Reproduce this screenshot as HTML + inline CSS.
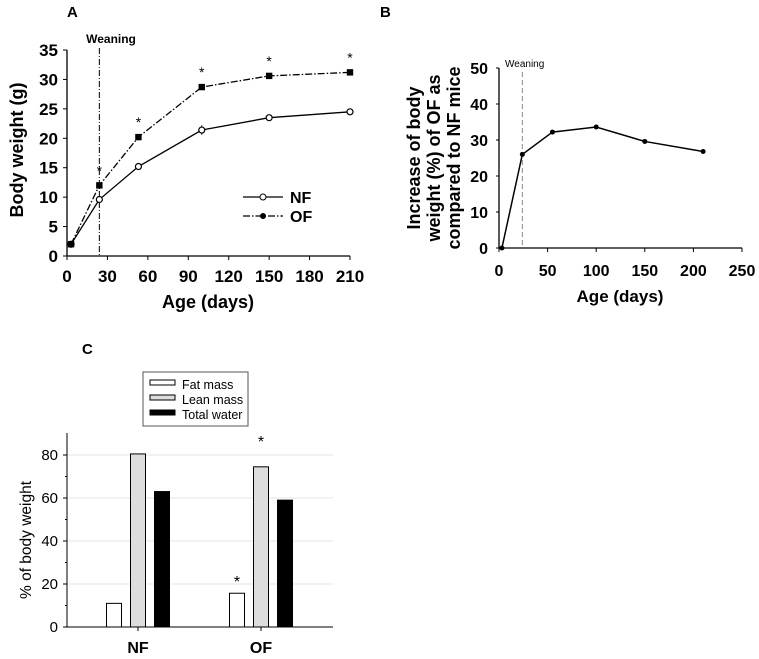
<!DOCTYPE html>
<html><head><meta charset="utf-8"><style>
body{margin:0;background:#fff;}
svg{display:block;font-family:"Liberation Sans",Arial,sans-serif;}
</style></head><body>
<svg id="svg" width="759" height="659" viewBox="0 0 759 659">
<text x="67" y="17" font-size="15" font-weight="bold">A</text>
<text x="380" y="17" font-size="15" font-weight="bold">B</text>
<text x="82" y="354" font-size="15" font-weight="bold">C</text>
<g id="ga"></g>
<g id="gb"></g>
<g id="gc"></g>
</svg>
<script>
// Panel A data
const aDays=[3,24,53,100,150,210];
const aNF=[2,9.6,15.2,21.4,23.5,24.5];
const aOF=[2,12,20.2,28.7,30.6,31.2];
const aErrNF=[0.2,0.4,0.5,0.8,0.4,0.5];
const aErrOF=[0.2,0.6,0.4,0.3,0.4,0.4];
const aSig=[false,true,true,true,true,true];
const aXTicks=[0,30,60,90,120,150,180,210];
const aYTicks=[0,5,10,15,20,25,30,35];
const weaningDay=24;
// Panel B data
const bDays=[3,24,55,100,150,210];
const bInc=[0,26,32.2,33.6,29.6,26.8];
const bXTicks=[0,50,100,150,200,250];
const bYTicks=[0,10,20,30,40,50];
// Panel C data
const cGroups=["NF","OF"];
const cSeries=["Fat mass","Lean mass","Total water"];
const cFat=[11,15.7];
const cLean=[80.5,74.5];
const cWater=[63,59];
const cSigFat=[false,true];
const cSigLean=[false,true];
const cYTicks=[0,20,40,60,80];

const NS="http://www.w3.org/2000/svg";
function mk(parent,tag,attrs,text){const e=document.createElementNS(NS,tag);for(const k in attrs)e.setAttribute(k,attrs[k]);if(text!==undefined)e.textContent=text;parent.appendChild(e);return e;}

// ---------- Panel A ----------
(function(){
const g=document.getElementById('ga');
const x=d=>67+d*(283/210), y=v=>256-v*(206/35);
let e;
e=mk(g,'line',{x1:67,y1:y(35),x2:67,y2:256,stroke:'#000','stroke-width':1.3});

e=mk(g,'line',{x1:67,y1:256,x2:350,y2:256,stroke:'#000','stroke-width':1.3});

aYTicks.forEach(t=>{mk(g,'line',{x1:63,y1:y(t),x2:67,y2:y(t),stroke:'#000'});
 e=mk(g,'text',{x:58,y:y(t)+6,'font-size':17,'font-weight':'bold','text-anchor':'end'},t);
 });
aXTicks.forEach(t=>{mk(g,'line',{x1:x(t),y1:256,x2:x(t),y2:260,stroke:'#000'});
 e=mk(g,'text',{x:x(t),y:282,'font-size':17,'font-weight':'bold','text-anchor':'middle'},t);
 });
e=mk(g,'text',{x:208,y:308,'font-size':18,'font-weight':'bold','text-anchor':'middle'},'Age (days)');

e=mk(g,'text',{x:0,y:0,'font-size':18,'font-weight':'bold','text-anchor':'middle',transform:'translate(23,150) rotate(-90)'},'Body weight (g)');

e=mk(g,'line',{x1:x(weaningDay),y1:48,x2:x(weaningDay),y2:256,stroke:'#000','stroke-dasharray':'6,2,1,2'});

e=mk(g,'text',{x:111,y:43,'font-size':12,'font-weight':'bold','text-anchor':'middle'},'Weaning');

e=mk(g,'polyline',{points:aDays.map((d,i)=>x(d)+','+y(aNF[i])).join(' '),fill:'none',stroke:'#000','stroke-width':1.3});

e=mk(g,'polyline',{points:aDays.map((d,i)=>x(d)+','+y(aOF[i])).join(' '),fill:'none',stroke:'#000','stroke-width':1.3,'stroke-dasharray':'7,2,1.5,2'});

aDays.forEach((d,i)=>{
 mk(g,'line',{x1:x(d),y1:y(aNF[i]-aErrNF[i]),x2:x(d),y2:y(aNF[i]+aErrNF[i]),stroke:'#000'});
 mk(g,'line',{x1:x(d),y1:y(aOF[i]-aErrOF[i]),x2:x(d),y2:y(aOF[i]+aErrOF[i]),stroke:'#000'});
 e=mk(g,'circle',{cx:x(d),cy:y(aNF[i]),r:3,fill:'#fff',stroke:'#000','stroke-width':1.2});
 
 e=mk(g,'rect',{x:x(d)-3.2,y:y(aOF[i])-3.2,width:6.4,height:6.4,fill:'#000'});
 
 if(aSig[i]){e=mk(g,'text',{x:x(d),y:y(aOF[i])-10,'font-size':14,'text-anchor':'middle'},'*');
  }
});
mk(g,'line',{x1:243,y1:197,x2:283,y2:197,stroke:'#000','stroke-width':1.3});
mk(g,'circle',{cx:263,cy:197,r:3,fill:'#fff',stroke:'#000'});
e=mk(g,'text',{x:290,y:203,'font-size':16,'font-weight':'bold'},'NF');

mk(g,'line',{x1:243,y1:216,x2:283,y2:216,stroke:'#000','stroke-width':1.3,'stroke-dasharray':'7,2,1.5,2'});
mk(g,'circle',{cx:263,cy:216,r:3,fill:'#000'});
e=mk(g,'text',{x:290,y:222,'font-size':16,'font-weight':'bold'},'OF');

})();

// ---------- Panel B ----------
(function(){
const g=document.getElementById('gb');
const x=d=>499+d*(243/250), y=v=>248-v*(180/50);
let e;
e=mk(g,'line',{x1:499,y1:68,x2:499,y2:248,stroke:'#000','stroke-width':1.3});

e=mk(g,'line',{x1:499,y1:248,x2:742,y2:248,stroke:'#000','stroke-width':1.3});

bYTicks.forEach(t=>{mk(g,'line',{x1:496,y1:y(t),x2:499,y2:y(t),stroke:'#000'});
 e=mk(g,'text',{x:488,y:y(t)+6,'font-size':16,'font-weight':'bold','text-anchor':'end'},t);
 });
bXTicks.forEach(t=>{mk(g,'line',{x1:x(t),y1:248,x2:x(t),y2:252,stroke:'#000'});
 e=mk(g,'text',{x:x(t),y:276,'font-size':16,'font-weight':'bold','text-anchor':'middle'},t);
 });
e=mk(g,'text',{x:620,y:302,'font-size':17,'font-weight':'bold','text-anchor':'middle'},'Age (days)');

['Increase of body','weight (%) of OF as','compared to NF mice'].forEach((s,i)=>{
 e=mk(g,'text',{x:0,y:0,'font-size':18,'font-weight':'bold','text-anchor':'middle',transform:'translate('+(420+i*20)+',158) rotate(-90)'},s);
 });
e=mk(g,'line',{x1:x(weaningDay),y1:72,x2:x(weaningDay),y2:248,stroke:'#888','stroke-dasharray':'5,3'});

e=mk(g,'text',{x:505,y:67,'font-size':10},'Weaning');

e=mk(g,'polyline',{points:bDays.map((d,i)=>x(d)+','+y(bInc[i])).join(' '),fill:'none',stroke:'#000','stroke-width':1.5});

bDays.forEach((d,i)=>{e=mk(g,'circle',{cx:x(d),cy:y(bInc[i]),r:2.5,fill:'#000'});
 });
})();

// ---------- Panel C ----------
(function(){
const g=document.getElementById('gc');
const y=v=>627-v*(172/80);
const groupX=[138,261], offs=[-24,0,24], bw=15;
const fills=['#fff','#ddd','#000'];
const vals=[cFat,cLean,cWater];
let e;
cYTicks.forEach(t=>{ if(t>0){e=mk(g,'line',{x1:67,y1:y(t),x2:333,y2:y(t),stroke:'#e6e6e6'});
 }
 mk(g,'line',{x1:63,y1:y(t),x2:67,y2:y(t),stroke:'#000'});
 e=mk(g,'text',{x:58,y:y(t)+5,'font-size':15,'text-anchor':'end'},t);
 });
[10,30,50,70].forEach(t=>mk(g,'line',{x1:65,y1:y(t),x2:67,y2:y(t),stroke:'#000'}));
e=mk(g,'line',{x1:67,y1:433,x2:67,y2:627,stroke:'#000'});

e=mk(g,'line',{x1:67,y1:627,x2:333,y2:627,stroke:'#000'});

e=mk(g,'text',{x:0,y:0,'font-size':15.5,'text-anchor':'middle',transform:'translate(31,540) rotate(-90)'},'% of body weight');

cGroups.forEach((gname,gi)=>{
 mk(g,'line',{x1:groupX[gi],y1:627,x2:groupX[gi],y2:631,stroke:'#000'});
 e=mk(g,'text',{x:groupX[gi],y:653,'font-size':16,'font-weight':'bold','text-anchor':'middle'},gname);
 
 vals.forEach((arr,si)=>{
  const bx=groupX[gi]+offs[si]-bw/2;
  e=mk(g,'rect',{x:bx,y:y(arr[gi]),width:bw,height:627-y(arr[gi]),fill:fills[si],stroke:'#000','stroke-width':1});
  
 });
 if(cSigFat[gi]){e=mk(g,'text',{x:groupX[gi]+offs[0],y:y(cFat[gi])-6,'font-size':16,'text-anchor':'middle'},'*');
  }
 if(cSigLean[gi]){e=mk(g,'text',{x:groupX[gi]+offs[1],y:y(cLean[gi])-20,'font-size':16,'text-anchor':'middle'},'*');
  }
});
e=mk(g,'rect',{x:143,y:372,width:105,height:54,fill:'#fff',stroke:'#555'});

cSeries.forEach((s,si)=>{
 mk(g,'rect',{x:150,y:380+si*15,width:25,height:5,fill:fills[si],stroke:'#000'});
 e=mk(g,'text',{x:182,y:389+si*15,'font-size':12.5},s);
 
});
})();
</script>
</body></html>
